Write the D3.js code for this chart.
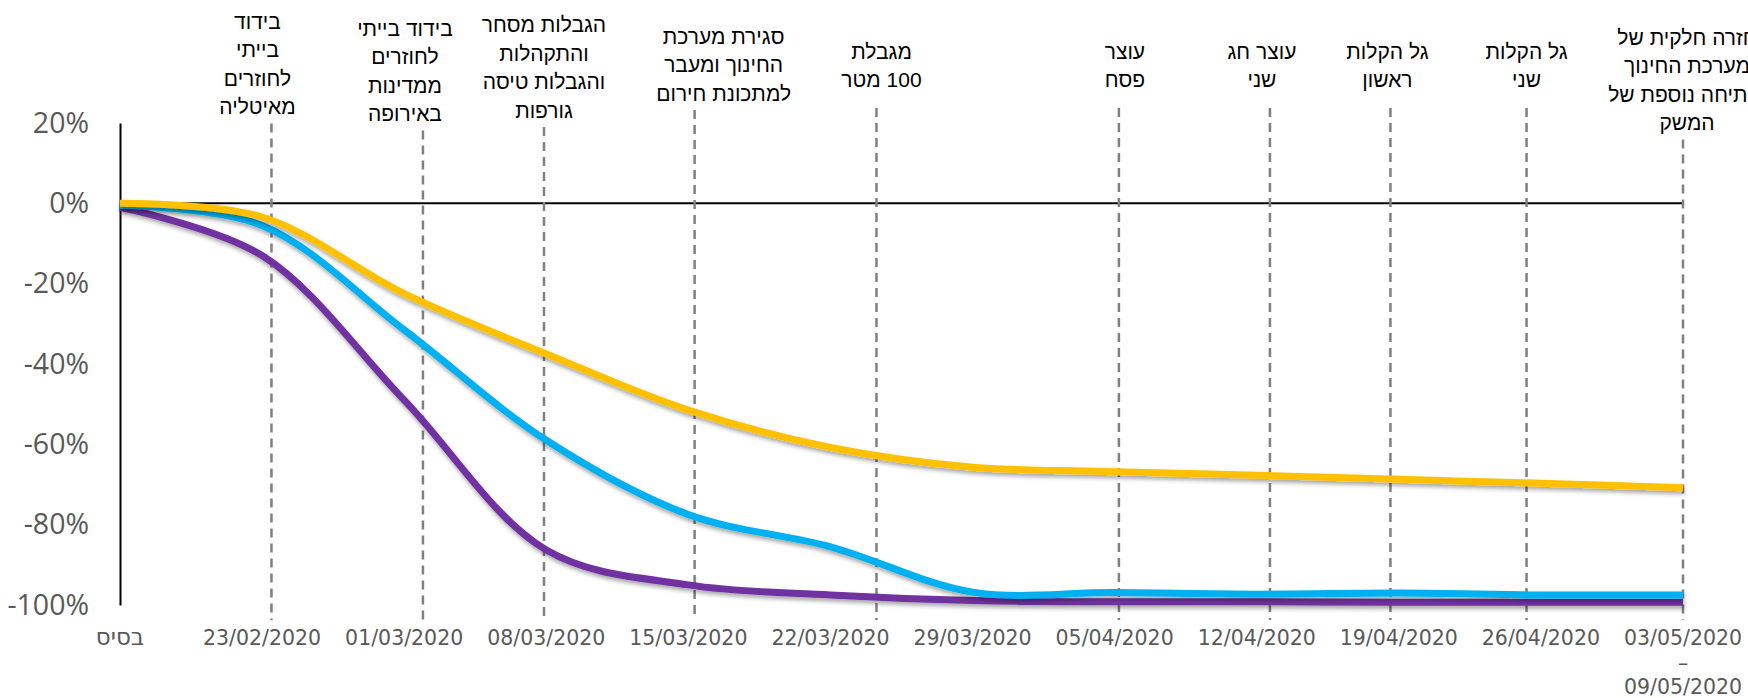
<!DOCTYPE html>
<html>
<head>
<meta charset="utf-8">
<script src="https://cdn.jsdelivr.net/npm/d3@7"></script>
<style>
  body { margin: 0; background: #fff; }
  .ylab { font-family: "Open Sans", "Noto Sans", sans-serif; font-size: 28.5px; fill: #595959; }
  .xlab { font-family: "DejaVu Sans", sans-serif; font-size: 20.5px; fill: #595959; }
  .note { font-family: "Liberation Sans", "DejaVu Sans", sans-serif; font-size: 21px; fill: #000; }
</style>
</head>
<body>
<div id="chartDivId"></div>
<script>
// categories on the x axis (weeks)
const categories = ["בסיס", "23/02/2020", "01/03/2020", "08/03/2020", "15/03/2020", "22/03/2020",
    "29/03/2020", "05/04/2020", "12/04/2020", "19/04/2020", "26/04/2020", "03/05/2020\n–\n09/05/2020"];

// change vs. base, in percent
const yellowValues = [0, -3.4, -22.5, -37.5, -51.5, -60.8, -65.7, -66.8, -67.7, -68.7, -69.7, -70.8];
const blueValues = [-0.5, -5.5, -31.5, -59, -77.5, -85.5, -96.8, -96.9, -97.3, -97.0, -97.5, -97.5];
const purpleValues = [-1, -13, -49, -86.3, -95, -97.5, -98.9, -99.2, -99.2, -99.3, -99.3, -99.3];

const yTicks = [20, 0, -20, -40, -60, -80, -100];

// events: position in category units + note text
const eventPos = [1.066, 2.132, 2.984, 4.044, 5.324, 7.03, 8.093, 8.941, 9.899, 11.0];
const eventNotes = [
    ["בידוד", "בייתי", "לחוזרים", "מאיטליה"],
    ["בידוד בייתי", "לחוזרים", "ממדינות", "באירופה"],
    ["הגבלות מסחר", "והתקהלות", "והגבלות טיסה", "גורפות"],
    ["סגירת מערכת", "החינוך ומעבר", "למתכונת חירום"],
    ["מגבלת", "100 מטר"],
    ["עוצר", "פסח"],
    ["עוצר חג", "שני"],
    ["גל הקלות", "ראשון"],
    ["גל הקלות", "שני"],
    ["חזרה חלקית של", "מערכת החינוך", "ופתיחה נוספת של", "המשק"]
];

// note layout (offset from its line, first line centre)
const noteDx = [-14, -18, 0, 29, 5, 6, -8, -3, 0, 4];
const noteTop = [21, 28, 24.5, 36, 51, 51, 51, 51, 51, 37];

const width = 1748, height = 698;
const lineH = 28.5;

const svg = d3.select("#chartDivId")
    .append("svg")
    .attr("width", width)
    .attr("height", height)
    .style("display", "block");

// soft shadow under the lines
const defs = svg.append("defs");
defs.append("filter")
    .attr("id", "shadow")
    .attr("x", "-5%").attr("y", "-20%")
    .attr("width", "110%").attr("height", "140%")
    .append("feDropShadow")
    .attr("dx", 1).attr("dy", 3)
    .attr("stdDeviation", 2)
    .attr("flood-color", "#000")
    .attr("flood-opacity", 0.35);

var x = d3.scaleLinear().domain([0, categories.length - 1]).range([120, 1683]);
var y = d3.scaleLinear().domain([-100, 20]).range([605, 123]);

// y axis
var yAxis = d3.axisLeft(y)
    .tickValues(yTicks)
    .tickFormat(function(d) { return d + "%"; })
    .tickSize(0)
    .tickPadding(31);

var yg = svg.append("g")
    .attr("transform", "translate(" + x(0) + ",0)")
    .call(yAxis);
yg.select(".domain").attr("stroke", "#000").attr("stroke-width", 2);
yg.selectAll("text").attr("class", "ylab").attr("font-size", null).attr("font-family", null);

// zero line
svg.append("line")
    .attr("x1", x(0)).attr("x2", x(categories.length - 1))
    .attr("y1", y(0)).attr("y2", y(0))
    .attr("stroke", "#000")
    .attr("stroke-width", 2);

// x labels
var xl = svg.selectAll(".xlab")
    .data(categories)
    .enter().append("text")
    .attr("class", "xlab")
    .attr("text-anchor", "middle")
    .attr("x", function(d, i) { return x(i); })
    .attr("y", 645)
    .style("font-size", function(d, i) { return i === 0 ? "23px" : null; });

xl.each(function(d, i) {
    var t = d3.select(this);
    d.split("\n").forEach(function(s, k) {
        t.append("tspan")
            .attr("x", x(i))
            .attr("y", 645 + k * 24.5)
            .text(s);
    });
});

// event lines and notes
var ev = svg.selectAll(".event")
    .data(eventPos)
    .enter().append("g")
    .attr("class", "event");

ev.append("line")
    .attr("x1", function(d) { return x(d); })
    .attr("x2", function(d) { return x(d); })
    .attr("y1", function(d, i) {
        var last = noteTop[i] + (eventNotes[i].length - 1) * lineH;
        return Math.max(last + 17, 108);
    })
    .attr("y2", 620)
    .attr("stroke", "#808080")
    .attr("stroke-width", 2.5)
    .attr("stroke-dasharray", "9,6");

ev.each(function(d, i) {
    var g = d3.select(this);
    eventNotes[i].forEach(function(s, k) {
        g.append("text")
            .attr("class", "note")
            .attr("direction", "rtl")
            .attr("text-anchor", "middle")
            .attr("x", x(d) + noteDx[i])
            .attr("y", noteTop[i] + k * lineH)
            .attr("dy", "0.36em")
            .text(s);
    });
});

// series lines
var series = [
    { values: purpleValues, color: "#7030A0" },
    { values: blueValues, color: "#00B0F0" },
    { values: yellowValues, color: "#FFC000" }
];

var line = d3.line()
    .x(function(d, i) { return x(i); })
    .y(function(d) { return y(d); })
    .curve(d3.curveCatmullRom.alpha(0.5));

svg.selectAll(".series")
    .data(series)
    .enter().append("path")
    .attr("class", "series")
    .attr("d", function(d) { return line(d.values); })
    .attr("fill", "none")
    .attr("stroke", function(d) { return d.color; })
    .attr("stroke-width", 7)
    .attr("stroke-linecap", "butt")
    .attr("filter", "url(#shadow)");
</script>
</body>
</html>
